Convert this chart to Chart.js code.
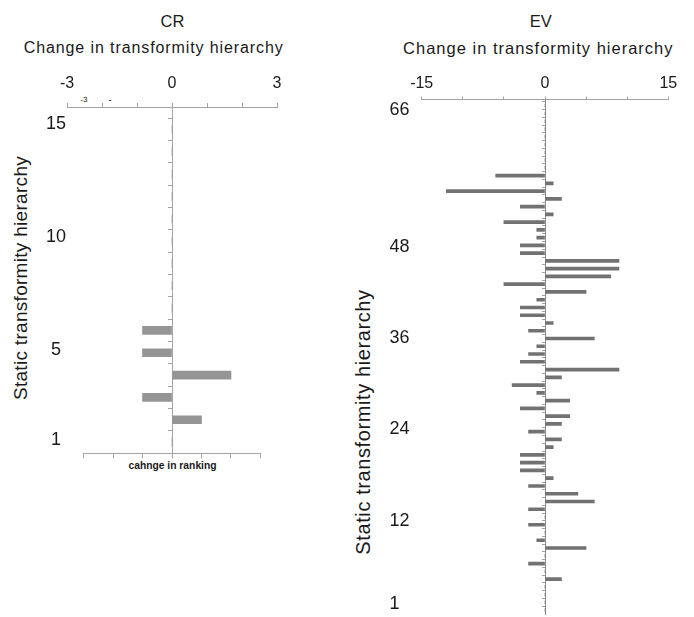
<!DOCTYPE html>
<html>
<head>
<meta charset="utf-8">
<script src="https://cdn.jsdelivr.net/npm/chart.js@4.4.1/dist/chart.umd.min.js"></script>
<style>
  html, body { margin: 0; padding: 0; background: #fff; }
  body { width: 694px; height: 617px; position: relative; overflow: hidden;
         font-family: "Liberation Sans", Arial, sans-serif; color: #1a1a1a; }
  .txt { position: absolute; white-space: nowrap; line-height: 1; transform: translate(-50%, -50%); }
  .vert { transform: translate(-50%, -50%) rotate(-90deg); }
  canvas { position: absolute; top: 0; }
</style>
</head>
<body>
<div class="txt" style="left:172.5px; top:21px; font-size:16.5px;">CR</div>
<div class="txt" style="left:153.7px; top:48px; font-size:16px; letter-spacing:0.9px;">Change in transformity hierarchy</div>
<div class="txt" style="left:84px; top:100px; font-size:8px;">-3</div>
<div class="txt" style="left:110px; top:100px; font-size:8px; font-weight:bold;">-</div>
<div class="txt vert" style="left:20px; top:277.5px; font-size:19px; letter-spacing:0.3px;">Static transformity hierarchy</div>
<div class="txt" style="left:172.5px; top:466px; font-size:10.3px; font-weight:bold;">cahnge in ranking</div>

<div class="txt" style="left:540.8px; top:21px; font-size:16.5px;">EV</div>
<div class="txt" style="left:538.3px; top:48.3px; font-size:16.5px; letter-spacing:1px;">Change in transformity hierarchy</div>
<div class="txt vert" style="left:363px; top:422px; font-size:20px; letter-spacing:0.6px;">Static transformity hierarchy</div>

<canvas id="cr" width="300" height="617" style="left:0;"></canvas>
<canvas id="ev" width="354" height="617" style="left:340px;"></canvas>

<script>
// CR panel
const crRanks = [1, 2, 3, 4, 5, 6, 7, 8, 9, 10, 11, 12, 13, 14, 15];
const crChange = [0, 1, -1, 2, -1, -1, 0, 0, 0, 0, 0, 0, 0, 0, 0];
const crTopTicks = [-3, 0, 3];
const crBottomTicks = [-3, -2, -1, 0, 1, 2, 3];
const crRankTicks = [1, 5, 10, 15];

// EV panel
const evRanks = [];
for (let r = 1; r <= 66; r++) evRanks.push(r);
const evChange = [
  0, 0, 0, 0, 2, 0, -2, 0, 5, -1,        // 1-10
  0, -2, 0, -2, 6, 4, -2, 1, -3, -3,     // 11-20
  -3, 1, 2, -2, 2, 3, -3, 3, -1, -4,     // 21-30
  2, 9, -3, -2, -1, 6, -2, 1, -3, -3,    // 31-40
  -1, 5, -5, 8, 9, 9, -3, -3, -1, -1,    // 41-50
  -5, 1, -3, 2, -12, 1, -6, 0, 0, 0,     // 51-60
  0, 0, 0, 0, 0, 0                       // 61-66
];
const evTopTicks = [-15, 0, 15];
const evRankTicks = [1, 12, 24, 36, 48, 66];

const AXIS = "#a3a3a3";
const TEXT = "#1a1a1a";
const FONT = "'Liberation Sans', Arial, sans-serif";

// small marks between ranks on the centre line
function halfSteps(n) {
  const out = [];
  for (let r = 1; r <= n; r++) out.push({ value: r + 0.5 });
  return out;
}

// bottom axis line only between its first and last tick
const partialBorder = {
  id: "partialBorder",
  afterDraw(chart) {
    const s = chart.scales.xb;
    if (!s) return;
    const ctx = chart.ctx;
    const y = Math.round(s.top) + 0.5;
    ctx.save();
    ctx.strokeStyle = AXIS;
    ctx.lineWidth = 1;
    ctx.beginPath();
    ctx.moveTo(s.getPixelForValue(crBottomTicks[0]), y);
    ctx.lineTo(s.getPixelForValue(crBottomTicks[crBottomTicks.length - 1]), y);
    ctx.stroke();
    ctx.restore();
  }
};

new Chart(document.getElementById("cr").getContext("2d"), {
  type: "bar",
  data: {
    labels: crRanks,
    datasets: [{
      data: crChange,
      backgroundColor: "#959595",
      barThickness: 8,
      xAxisID: "xb",
      yAxisID: "y"
    }]
  },
  options: {
    indexAxis: "y",
    responsive: false,
    animation: false,
    layout: { padding: { top: 60, left: 0, right: 23, bottom: 143.7 } },
    plugins: { legend: { display: false }, tooltip: { enabled: false } },
    scales: {
      x: {
        type: "linear",
        position: "top",
        min: -3,
        max: 3,
        ticks: {
          stepSize: 1,
          autoSkip: false,
          maxRotation: 0,
          padding: 9.9,
          color: TEXT,
          font: { family: FONT, size: 16 },
          callback: (v) => crTopTicks.includes(v) ? String(v) : ""
        },
        grid: { drawOnChartArea: false, tickLength: 4, tickColor: AXIS },
        border: { color: AXIS },
        afterFit: (s) => { s.height = 47; }
      },
      xb: {
        type: "linear",
        position: "bottom",
        min: -3.56,
        max: 3.56,
        afterBuildTicks: (s) => { s.ticks = crBottomTicks.map((v) => ({ value: v })); },
        ticks: { display: false },
        grid: { drawOnChartArea: false, tickLength: 5, tickColor: AXIS },
        border: { display: false },
        afterFit: (s) => { s.height = 20; }
      },
      y: {
        type: "linear",
        position: { xb: 0 },
        offset: false,
        min: 0.5,
        max: 16,
        afterBuildTicks: (s) => { s.ticks = halfSteps(crRanks.length); },
        ticks: { display: false },
        grid: { drawOnChartArea: false, offset: false, tickLength: 4, tickColor: AXIS },
        border: { color: AXIS }
      },
      yl: {
        type: "linear",
        position: "left",
        offset: false,
        min: 0.41,
        max: 15.75,
        afterBuildTicks: (s) => { s.ticks = crRankTicks.map((v) => ({ value: v })); },
        ticks: { crossAlign: "center", padding: 1, color: TEXT, font: { family: FONT, size: 18 } },
        grid: { display: false, drawTicks: false, offset: false },
        border: { display: false },
        afterFit: (s) => { s.width = 67; }
      }
    }
  },
  plugins: [partialBorder]
});

new Chart(document.getElementById("ev").getContext("2d"), {
  type: "bar",
  data: {
    labels: evRanks,
    datasets: [{
      data: evChange,
      backgroundColor: "#727272",
      barThickness: 3,
      xAxisID: "x",
      yAxisID: "y"
    }]
  },
  options: {
    indexAxis: "y",
    responsive: false,
    animation: false,
    layout: { padding: { top: 40, left: 49.5, right: 25.7, bottom: 3 } },
    plugins: { legend: { display: false }, tooltip: { enabled: false } },
    scales: {
      x: {
        type: "linear",
        position: "top",
        min: -15,
        max: 15,
        ticks: {
          stepSize: 5,
          autoSkip: false,
          maxRotation: 0,
          padding: 3.2,
          color: TEXT,
          font: { family: FONT, size: 16 },
          callback: (v) => evTopTicks.includes(v) ? String(v) : ""
        },
        grid: { drawOnChartArea: false, tickLength: 3, tickColor: AXIS },
        border: { color: AXIS },
        afterFit: (s) => { s.height = 59.5; }
      },
      y: {
        type: "linear",
        position: { x: 0 },
        offset: false,
        min: 0.5,
        max: 66.8,
        afterBuildTicks: (s) => { s.ticks = halfSteps(evRanks.length); },
        ticks: { display: false },
        grid: { drawOnChartArea: false, offset: false, tickLength: 3, tickColor: AXIS },
        border: { color: "#8c8c8c" }
      },
      yl: {
        type: "linear",
        position: "left",
        offset: false,
        min: -0.26,
        max: 67.35,
        afterBuildTicks: (s) => { s.ticks = evRankTicks.map((v) => ({ value: v })); },
        ticks: { crossAlign: "far", padding: 0, color: TEXT, font: { family: FONT, size: 18 } },
        grid: { display: false, drawTicks: false, offset: false },
        border: { display: false },
        afterFit: (s) => {
          s.width = 32.2;
          // the "1" label may hang below the plot, as in the original
          s.paddingTop = 0;
          s.paddingBottom = 0;
        }
      }
    }
  }
});
</script>
</body>
</html>
